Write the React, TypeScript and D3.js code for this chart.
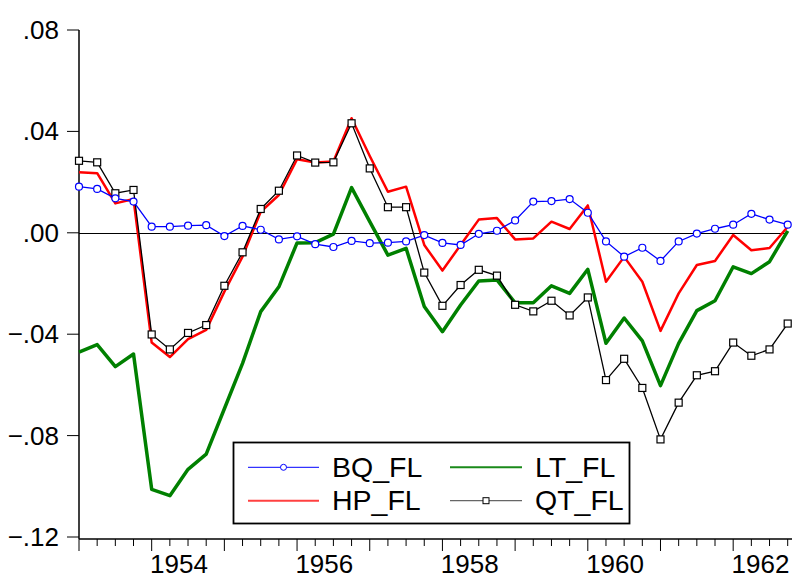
import React from "react";
import * as d3 from "d3";

const WIDTH = 796;
const HEIGHT = 579;
const FONT = "'Liberation Sans', Arial, sans-serif";

// quarterly periods 1953Q1 .. 1962Q4
const years = [1953, 1954, 1955, 1956, 1957, 1958, 1959, 1960, 1961, 1962];
const periods = years.flatMap((y) => [1, 2, 3, 4].map((q) => `${y}Q${q}`));

const yTicks = [0.08, 0.04, 0, -0.04, -0.08, -0.12];
const xLabels = ["1954", "1956", "1958", "1960", "1962"];

const bqFl = [
  0.0182, 0.0173, 0.0136, 0.0123, 0.0024, 0.0024, 0.0028, 0.003, -0.0013, 0.0027,
  0.0012, -0.0026, -0.0014, -0.0045, -0.0056, -0.0032, -0.0041, -0.0039, -0.0034, -0.0009,
  -0.004, -0.0048, -0.0004, 0.0008, 0.0049, 0.0123, 0.0125, 0.0133, 0.0079, -0.0034,
  -0.0094, -0.0059, -0.0111, -0.0034, -0.0003, 0.0016, 0.0032, 0.0075, 0.0052, 0.0032,
];
const hpFl = [
  0.0239, 0.0235, 0.0116, 0.0133, -0.0433, -0.049, -0.0419, -0.0383, -0.0232, -0.0094,
  0.0083, 0.0149, 0.029, 0.0277, 0.0281, 0.0452, 0.0303, 0.0162, 0.0182, -0.0048,
  -0.0149, -0.0048, 0.0052, 0.0058, -0.0026, -0.0022, 0.0044, 0.0015, 0.0108, -0.0193,
  -0.0095, -0.0193, -0.0387, -0.0239, -0.0127, -0.0111, -0.0009, -0.0069, -0.006, 0.0024,
];
const ltFl = [
  -0.0471, -0.0441, -0.0528, -0.0478, -0.1012, -0.1037, -0.0933, -0.0873, -0.0694, -0.0515,
  -0.0311, -0.0213, -0.004, -0.0039, -0.0005, 0.0178, 0.0044, -0.0088, -0.0061, -0.0291,
  -0.039, -0.0285, -0.019, -0.0186, -0.0276, -0.0276, -0.0209, -0.0239, -0.0144, -0.0436,
  -0.0336, -0.0426, -0.0603, -0.0436, -0.0307, -0.0268, -0.0134, -0.0161, -0.0114, 0.0008,
];
const qtFl = [
  0.0284, 0.0278, 0.0156, 0.0169, -0.0401, -0.046, -0.0395, -0.0364, -0.0209, -0.0077,
  0.0094, 0.0166, 0.0305, 0.0277, 0.0278, 0.0432, 0.0254, 0.0101, 0.0101, -0.0157,
  -0.0288, -0.0206, -0.0146, -0.0169, -0.0284, -0.031, -0.0268, -0.0326, -0.0255, -0.0581,
  -0.0497, -0.0612, -0.0815, -0.067, -0.0562, -0.0546, -0.0433, -0.0485, -0.046, -0.0358,
];

const fmtY = (v: number) => d3.format(".2f")(v).replace("0.", ".");

export default function App() {
  const x = d3.scaleLinear().domain([0, periods.length - 1]).range([79, 787.7]);
  const y = d3.scaleLinear().domain([-0.12, 0.08]).range([537, 30]);
  const line = d3
    .line<number>()
    .x((_, i) => x(i))
    .y((d) => y(d));

  const axisY = 539;
  const zeroY = Math.round(y(0)) + 0.5;

  return (
    <svg
      width={WIDTH}
      height={HEIGHT}
      style={{ position: "absolute", left: 0, top: 0, background: "#fff" }}
      fontFamily={FONT}
    >
      {/* y axis */}
      <line x1={79} x2={79} y1={30} y2={axisY} stroke="#000" strokeWidth={1.5} />
      {yTicks.map((t) => (
        <g key={t}>
          <line x1={67} x2={79} y1={y(t)} y2={y(t)} stroke="#000" strokeWidth={1} />
          <text x={59} y={y(t) + 9} textAnchor="end" fontSize={26} fill="#000">
            {fmtY(t)}
          </text>
        </g>
      ))}

      {/* x axis */}
      <line x1={79} x2={792} y1={axisY} y2={axisY} stroke="#000" strokeWidth={1.5} />
      {periods.map((p, i) => (
        <line
          key={p}
          x1={x(i)}
          x2={x(i)}
          y1={axisY}
          y2={p.endsWith("Q1") ? axisY + 12 : axisY + 7}
          stroke="#000"
          strokeWidth={1}
        />
      ))}
      {xLabels.map((lab) => {
        const i = periods.indexOf(`${lab}Q1`);
        return (
          <text key={lab} x={x(i + 1.5)} y={573} textAnchor="middle" fontSize={26} fill="#000">
            {lab}
          </text>
        );
      })}

      {/* zero line */}
      <line x1={79} x2={787.7} y1={zeroY} y2={zeroY} stroke="#000" strokeWidth={1} />

      {/* series */}
      <path d={line(ltFl) ?? ""} fill="none" stroke="#008000" strokeWidth={3.5} strokeLinejoin="round" />
      <path d={line(hpFl) ?? ""} fill="none" stroke="#ff0000" strokeWidth={2.5} strokeLinejoin="round" />
      <path d={line(qtFl) ?? ""} fill="none" stroke="#000" strokeWidth={1.3} />
      {qtFl.map((d, i) => (
        <rect key={i} x={x(i) - 3.5} y={y(d) - 3.5} width={7} height={7} fill="#fff" stroke="#000" strokeWidth={1.2} />
      ))}
      <path d={line(bqFl) ?? ""} fill="none" stroke="#0000ff" strokeWidth={1.3} />
      {bqFl.map((d, i) => (
        <circle key={i} cx={x(i)} cy={y(d)} r={3.5} fill="#fff" stroke="#0000ff" strokeWidth={1.2} />
      ))}

      {/* legend */}
      <g>
        <rect x={233.5} y={442.5} width={396} height={81} fill="#fff" stroke="#000" strokeWidth={1.8} />
        <line x1={248} x2={319} y1={467.3} y2={467.3} stroke="#0000ff" strokeWidth={1} />
        <circle cx={283.5} cy={467.3} r={3} fill="#fff" stroke="#0000ff" strokeWidth={1} />
        <text x={332} y={476.5} fontSize={28.5}>BQ_FL</text>
        <line x1={248} x2={319} y1={500.7} y2={500.7} stroke="#ff4040" strokeWidth={2} />
        <text x={332} y={510} fontSize={28.5}>HP_FL</text>
        <line x1={450} x2={522} y1={467.3} y2={467.3} stroke="#1a8a1a" strokeWidth={2} />
        <text x={535} y={476.5} fontSize={28.5}>LT_FL</text>
        <line x1={450} x2={522} y1={500.7} y2={500.7} stroke="#666" strokeWidth={1.2} />
        <rect x={483} y={497.7} width={6} height={6} fill="#fff" stroke="#000" strokeWidth={1} />
        <text x={535} y={510} fontSize={28.5}>QT_FL</text>
      </g>
    </svg>
  );
}
